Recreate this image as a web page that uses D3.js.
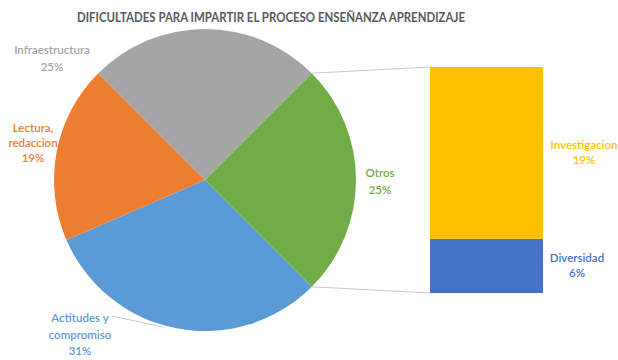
<!DOCTYPE html>
<html>
<head>
<meta charset="utf-8">
<script src="https://cdn.jsdelivr.net/npm/d3@7"></script>
<style>
  html, body { margin: 0; padding: 0; background: #fff; }
  svg { display: block; }
</style>
</head>
<body>
<svg id="chart" width="618" height="360"></svg>
<script>
// Main pie: categories and their shares (%)
const pieCategories = ["Actitudes y compromiso", "Lectura, redaccion", "Infraestructura", "Otros"];
const pieValues = [31, 19, 25, 25];
const pieColors = ["#5b9bd5", "#ed7d31", "#a5a5a5", "#70ad47"];

// Breakdown of "Otros" shown as the stacked bar (bottom to top)
const barCategories = ["Diversidad", "Investigacion"];
const barValues = [6, 19];
const barColors = ["#4472c4", "#ffc000"];

const title = "DIFICULTADES PARA IMPARTIR EL PROCESO ENSEÑANZA APRENDIZAJE";

const svg = d3.select("#chart");
const font = "Lato, 'Open Sans', sans-serif";

// Title
svg.append("text")
  .attr("x", 271).attr("y", 22)
  .attr("text-anchor", "middle")
  .attr("font-family", font)
  .attr("font-weight", "bold")
  .attr("font-size", 12.5)
  .attr("textLength", 388)
  .attr("lengthAdjust", "spacingAndGlyphs")
  .attr("fill", "#595959")
  .text(title);

// ---- Pie ----
const cx = 205, cy = 180, r = 151;
const deg = Math.PI / 180;
const pie = d3.pie().sort(null)
  .startAngle(135 * deg).endAngle(495 * deg);
const arcs = pie(pieValues);
const arc = d3.arc().innerRadius(0).outerRadius(r);

const g = svg.append("g").attr("transform", `translate(${cx},${cy})`);

// ---- Stacked bar for "Otros" ----
const barX0 = 430, barW = 113;
const y = d3.scaleLinear().domain([0, d3.sum(barValues)]).range([293, 67]);
const barStack = d3.stack().keys(barCategories)([Object.fromEntries(barCategories.map((k, i) => [k, barValues[i]]))]);

// Connector lines from the "Otros" slice edge to the bar
const otros = arcs[3];
const edge = a => [cx + r * Math.sin(a), cy - r * Math.cos(a)];
const p1 = edge(otros.startAngle), p2 = edge(otros.endAngle);
svg.append("line")
  .attr("x1", p1[0]).attr("y1", p1[1]).attr("x2", barX0).attr("y2", y(d3.sum(barValues)))
  .attr("stroke", "#c8c8c8").attr("stroke-width", 1);
svg.append("line")
  .attr("x1", p2[0]).attr("y1", p2[1]).attr("x2", barX0).attr("y2", y(0))
  .attr("stroke", "#c8c8c8").attr("stroke-width", 1);

g.selectAll("path.slice").data(arcs).join("path")
  .attr("class", "slice")
  .attr("d", arc)
  .attr("fill", (d, i) => pieColors[i]);

svg.selectAll("rect.bar").data(barStack).join("rect")
  .attr("class", "bar")
  .attr("x", barX0).attr("width", barW)
  .attr("y", d => y(d[0][1]))
  .attr("height", d => y(d[0][0]) - y(d[0][1]))
  .attr("fill", (d, i) => barColors[i]);

// ---- Data labels ----
function label(lines, x, y0, color, lh) {
  const t = svg.append("text")
    .attr("text-anchor", "middle")
    .attr("font-family", font)
    .attr("font-weight", 600)
    .attr("font-size", 11.5)
    .attr("fill", color);
  lines.forEach((s, i) => t.append("tspan").attr("x", x).attr("y", y0 + i * lh).text(s));
}

// Leader line for the "Actitudes y compromiso" label
svg.append("line")
  .attr("x1", 112).attr("y1", 316).attr("x2", 163).attr("y2", 327)
  .attr("stroke", "#c8c8c8").attr("stroke-width", 1);

label(["Infraestructura", pieValues[2] + "%"], 52, 54, "#a5a5a5", 17);
label(["Lectura,", "redaccion", pieValues[1] + "%"], 33, 132, "#ed7d31", 15);
label(["Actitudes y", "compromiso", pieValues[0] + "%"], 80, 322, "#5b9bd5", 16.5);
label(["Otros", pieValues[3] + "%"], 380, 177, "#70ad47", 17);
label(["Investigacion", barValues[1] + "%"], 584, 149, "#ffc000", 15);
label(["Diversidad", barValues[0] + "%"], 577, 262, "#4472c4", 15);

// Pie drawn over the orange label edge
g.raise();
</script>
</body>
</html>
